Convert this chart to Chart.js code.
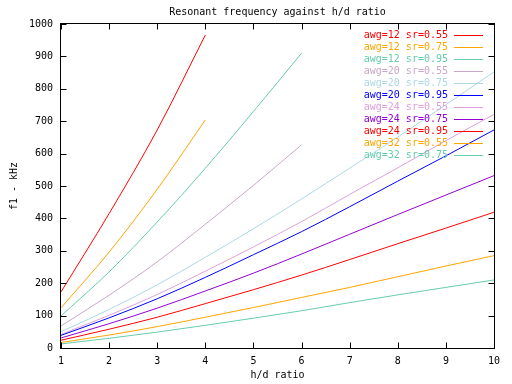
<!DOCTYPE html>
<html>
<head>
<meta charset="utf-8">
<script src="https://cdn.jsdelivr.net/npm/chart.js@4.4.1/dist/chart.umd.min.js"></script>
<style>
html, body { margin: 0; padding: 0; background: #fff; }
</style>
</head>
<body>
<canvas id="chart" width="512" height="384"></canvas>
<script>
/* DATA (h/d ratio vs f1 in kHz) */
const hdRatio = [1, 2, 3, 4, 5, 6, 7, 8, 9, 10];

const awg12sr55 = [173, 415, 673, 966];
const awg12sr75 = [124, 296, 490, 704];
const awg12sr95 = [99, 235, 389, 555, 730, 910];
const awg20sr55 = [68, 163, 266, 382, 502, 627];
const awg20sr75 = [50, 119, 195, 280, 368, 460, 555, 651, 751, 852];
const awg20sr95 = [39, 93, 152, 218, 288, 359, 436, 515, 593, 673];
const awg24sr55 = [42, 101, 165, 237, 312, 390, 474, 556, 640, 721];
const awg24sr75 = [31, 75, 123, 176, 231, 290, 351, 412, 472, 532];
const awg24sr95 = [24, 58, 95, 137, 180, 225, 273, 322, 370, 419];
const awg32sr55 = [17, 40, 66, 95, 125, 156, 187, 220, 253, 285];
const awg32sr75 = [12.5, 30, 49, 70, 92, 115, 140, 164, 187, 210];

const seriesLabels = [
    "awg=12 sr=0.55", "awg=12 sr=0.75", "awg=12 sr=0.95",
    "awg=20 sr=0.55", "awg=20 sr=0.75", "awg=20 sr=0.95",
    "awg=24 sr=0.55", "awg=24 sr=0.75", "awg=24 sr=0.95",
    "awg=32 sr=0.55", "awg=32 sr=0.75"
];
const seriesValues = [
    awg12sr55, awg12sr75, awg12sr95,
    awg20sr55, awg20sr75, awg20sr95,
    awg24sr55, awg24sr75, awg24sr95,
    awg32sr55, awg32sr75
];
const seriesColors = [
    "#ff0000", "#ffa500", "#66cdaa",
    "#c8a8c8", "#add8e6", "#0000ff",
    "#dda0dd", "#9400d3", "#ff0000",
    "#ffa500", "#66cdaa"
];

const FONT = "10px 'DejaVu Sans Mono', monospace";

/* DATASETS */
const datasets = seriesValues.map((vals, i) => ({
    label: seriesLabels[i],
    data: vals.map((v, k) => ({ x: hdRatio[k], y: v })),
    borderColor: seriesColors[i],
    borderWidth: 1,
    pointRadius: 0,
    cubicInterpolationMode: "monotone",
    fill: false
}));

/* gnuplot style border + inward ticks */
const borderPlugin = {
    id: "border",
    afterDraw(chart) {
        const { ctx, chartArea: a, scales: { x, y } } = chart;
        ctx.save();
        ctx.strokeStyle = "#000";
        ctx.lineWidth = 1;
        const l = Math.round(a.left) - 0.5, r = Math.round(a.right) + 0.5;
        const t = Math.round(a.top) - 0.5, b = Math.round(a.bottom) + 0.5;
        ctx.strokeRect(l, t, r - l, b - t);
        ctx.beginPath();
        y.ticks.forEach(tk => {
            const py = Math.round(y.getPixelForValue(tk.value)) + 0.5;
            ctx.moveTo(l, py); ctx.lineTo(l + 6, py);
            ctx.moveTo(r, py); ctx.lineTo(r - 6, py);
        });
        x.ticks.forEach(tk => {
            const px = Math.round(x.getPixelForValue(tk.value)) + 0.5;
            ctx.moveTo(px, b); ctx.lineTo(px, b - 6);
            ctx.moveTo(px, t); ctx.lineTo(px, t + 6);
        });
        ctx.stroke();
        ctx.restore();
    }
};

/* key in the top right, text right aligned, sample line after it */
const keyPlugin = {
    id: "key",
    afterDatasetsDraw(chart) {
        const { ctx, chartArea: a } = chart;
        ctx.save();
        ctx.font = FONT;
        ctx.textAlign = "right";
        ctx.textBaseline = "middle";
        chart.data.datasets.forEach((ds, i) => {
            const yy = Math.round(a.top + 11 + i * 11.95);
            ctx.fillStyle = seriesColors[i];
            ctx.fillText(ds.label, a.right - 46, yy);
            ctx.fillRect(Math.round(a.right - 40), yy, 29, 1);
        });
        ctx.restore();
    }
};

const fontObj = { family: "'DejaVu Sans Mono', monospace", size: 10 };

new Chart(document.getElementById("chart"), {
    type: "line",
    data: { datasets },
    options: {
        responsive: false,
        animation: false,
        layout: { padding: { top: 0, right: 18, left: 0, bottom: 0 } },
        plugins: {
            legend: { display: false },
            tooltip: { enabled: false },
            title: {
                display: true,
                text: "Resonant frequency against h/d ratio",
                fullSize: false,
                color: "#000",
                font: { ...fontObj, weight: "normal", lineHeight: 1.2 },
                padding: { top: 6, bottom: 6 }
            }
        },
        scales: {
            x: {
                type: "linear",
                min: 1,
                max: 10,
                grid: { display: false, drawTicks: false },
                border: { display: false },
                ticks: { stepSize: 1, color: "#000", font: fontObj, padding: 7, maxRotation: 0 },
                title: { display: true, text: "h/d ratio", color: "#000", font: fontObj, padding: { top: 0, bottom: 3 } },
                afterFit(s) { s.height = 36; }
            },
            y: {
                type: "linear",
                min: 0,
                max: 1000,
                grid: { display: false, drawTicks: false },
                border: { display: false },
                ticks: { stepSize: 100, color: "#000", font: fontObj, padding: 8, callback: v => String(v) },
                title: { display: true, text: "f1 - kHz", color: "#000", font: fontObj, padding: { top: 8, bottom: 0 } },
                afterFit(s) { s.width = 61; }
            }
        }
    },
    plugins: [borderPlugin, keyPlugin]
});
</script>
</body>
</html>
